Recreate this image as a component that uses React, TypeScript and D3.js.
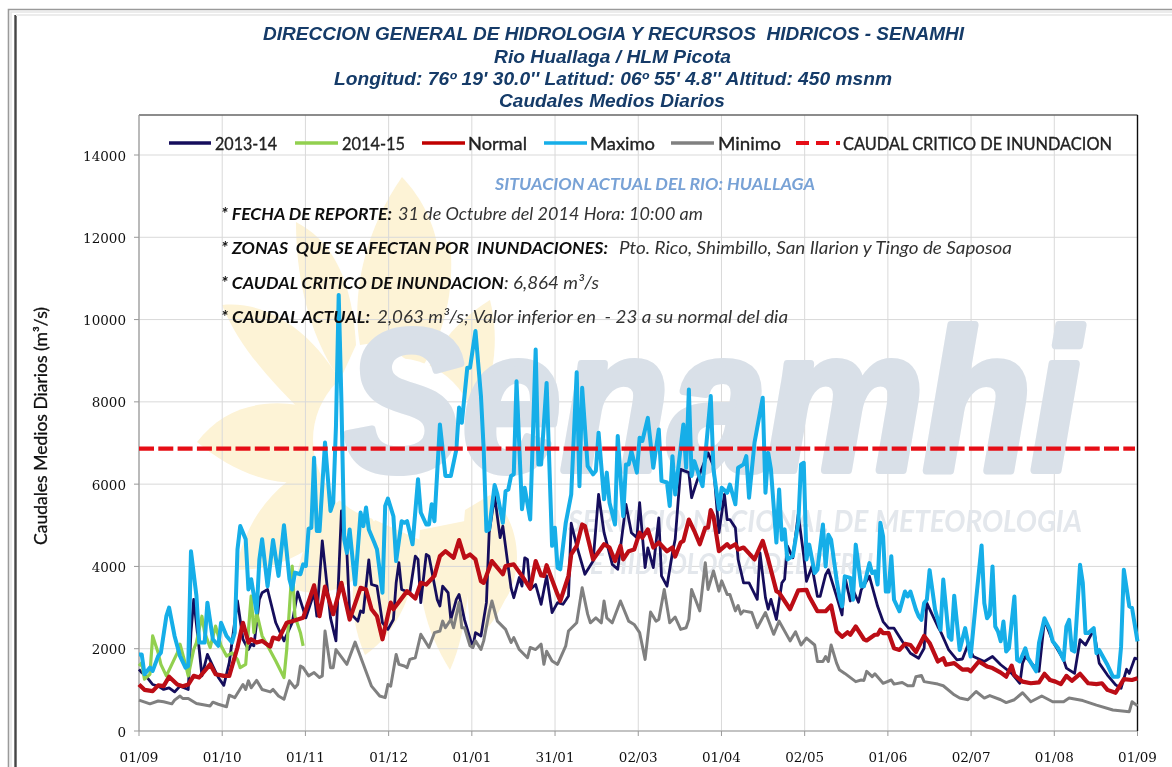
import React from "react";
import * as d3 from "d3";

type P = [number, number];

const xLabels = ["01/09","01/10","01/11","01/12","01/01","31/01","02/03","01/04","02/05","01/06","02/07","01/08","01/09"];
const yTicks = [0,2000,4000,6000,8000,10000,12000,14000];
const caudalCritico = 6864;

const serie1314: P[] = [[0,1500],[1,1420],[3,1300],[5,1130],[7,1090],[9,1010],[11,1050],[13,950],[15,1090],[18,1010],[19,2390],[20,3200],[22,1990],[23,1340],[25,1860],[27,1580],[29,1300],[31,1110],[33,1660],[36,3160],[38,2230],[40,1980],[41,2110],[42,2070],[44,3200],[45,3360],[47,3440],[50,2630],[53,2190],[56,2630],[58,3380],[61,2750],[64,3360],[65,2790],[67,4620],[70,2750],[72,2190],[74,5350],[76,4330],[77,2880],[80,2670],[81,2920],[82,2880],[84,4160],[85,3560],[87,3520],[89,2630],[91,2470],[93,2710],[94,3600],[95,4090],[96,3440],[99,3360],[101,4250],[102,4170],[103,3120],[105,4290],[106,4250],[109,3200],[110,3040],[111,3520],[113,3360],[114,2710],[116,3200],[117,3320],[119,2700],[122,2030],[123,2390],[125,2310],[127,3120],[128,4820],[130,5710],[132,4700],[133,4980],[136,3480],[137,3240],[139,3730],[140,3520],[141,4210],[142,4170],[143,3440],[145,3560],[147,3080],[149,3770],[151,2880],[153,3120],[155,3080],[157,3280],[158,5050],[160,4500],[163,3810],[166,4130],[168,5750],[170,4820],[173,4050],[175,3930],[177,4980],[178,5510],[180,4820],[182,4700],[183,5550],[185,3970],[186,4450],[188,3970],[190,5180],[191,3770],[193,3520],[195,4330],[196,4660],[198,6360],[201,6280],[202,5670],[204,6080],[208,6760],[210,6440],[212,4820],[214,5750],[215,5140],[216,5140],[218,4940],[219,4170],[221,3600],[223,3600],[226,3200],[227,4330],[229,3240],[230,2960],[231,3200],[233,2710],[235,3600],[236,3690],[237,4500],[239,4210],[241,5270],[243,4250],[244,3640],[246,4000],[248,3270],[249,3270],[251,3800],[252,3920],[255,3270],[257,2820],[258,3760],[260,3160],[261,3430],[263,3130],[264,3430],[267,3760],[270,3030],[272,2660],[274,2500],[276,2500],[279,2180],[282,1890],[285,1770],[287,2010],[288,3110],[292,2540],[293,2420],[296,1970],[299,1730],[301,1750],[303,2090],[305,1810],[309,1690],[312,1810],[315,1610],[319,1400],[322,1160],[323,1650],[324,1810],[329,1450],[331,2700],[334,2180],[338,1730],[339,1530],[342,1400],[344,2220],[346,2090],[349,2460],[351,1650],[354,1360],[357,1120],[359,1040],[361,1500],[362,1400],[364,1770],[365,1750]];

const serie1415: P[] = [[0,1580],[1,1660],[2,1260],[4,1380],[5,2310],[7,1900],[8,1620],[10,1340],[12,1620],[14,1900],[15,2110],[17,1620],[18,1340],[20,1980],[21,2150],[23,2790],[24,2390],[26,2030],[28,2550],[30,2070],[32,1820],[34,1900],[36,1740],[37,1540],[39,1620],[41,3280],[42,2390],[43,2880],[45,2310],[47,2070],[50,1700],[53,1300],[54,1980],[56,4010],[57,2790],[59,2390],[60,2070]];

const serieNormal: P[] = [[0,1130],[2,1000],[5,970],[7,1110],[9,1090],[11,1320],[14,1130],[16,1090],[18,1130],[20,1340],[22,1300],[26,1620],[28,1380],[31,1340],[33,1340],[36,2030],[38,2630],[40,2150],[41,2230],[43,2150],[45,2190],[48,2050],[49,2270],[51,2230],[54,2630],[56,2670],[60,2750],[64,3540],[66,2790],[68,3510],[71,2840],[74,3600],[77,2710],[81,3480],[83,3440],[85,2960],[87,2790],[89,2230],[92,3120],[93,2960],[98,3400],[101,3220],[103,3600],[105,3560],[108,3770],[110,4250],[112,4370],[115,4210],[117,4640],[119,4210],[121,4290],[123,4170],[125,3640],[126,3600],[129,4130],[133,3810],[134,4010],[137,4050],[140,3770],[143,3460],[145,4130],[147,3780],[148,3770],[149,4030],[153,3320],[154,3160],[157,3770],[158,4290],[160,4500],[162,5020],[163,4980],[166,4170],[170,4540],[172,4460],[174,4130],[176,4500],[177,4170],[179,4370],[181,4410],[183,4820],[184,4700],[186,4900],[188,4460],[190,4580],[193,4370],[195,4460],[196,4240],[198,4580],[199,4620],[201,5140],[203,4860],[205,4540],[207,4940],[208,4940],[209,5370],[210,5220],[212,4370],[215,4540],[216,4460],[218,4540],[219,4410],[221,4460],[225,4170],[228,4620],[230,4170],[233,3400],[234,3360],[238,2960],[241,3420],[244,3430],[245,3270],[248,2910],[251,2910],[253,3050],[255,2420],[257,2290],[259,2400],[260,2340],[262,2540],[265,2230],[266,2200],[269,2340],[270,2340],[271,2460],[272,2380],[274,2380],[276,2010],[278,1970],[280,2120],[282,2090],[284,1920],[287,2310],[289,2140],[292,1690],[294,1770],[295,1610],[298,1650],[301,1490],[303,1500],[304,1450],[307,1690],[310,1570],[312,1530],[315,1420],[317,1320],[319,1590],[320,1360],[323,1200],[326,1160],[329,1180],[331,1390],[333,1240],[335,1200],[337,1140],[339,1340],[341,1220],[344,1390],[347,1160],[350,1140],[352,1160],[354,1000],[357,930],[360,1260],[363,1240],[365,1280]];

const serieMaximo: P[] = [[0,1860],[1,1860],[2,1380],[4,1540],[5,1460],[7,1820],[8,1900],[10,2790],[11,3000],[13,2310],[15,1820],[17,1540],[18,1580],[19,4370],[21,3280],[22,2150],[24,2150],[25,3120],[27,2230],[29,2070],[30,2630],[32,2310],[34,2150],[35,2390],[36,4410],[37,4980],[39,4660],[40,3440],[41,3690],[43,2880],[44,4170],[45,4660],[47,3520],[49,4640],[51,3770],[53,5000],[55,3690],[56,3440],[57,3850],[59,3810],[60,4050],[61,4010],[62,4920],[63,4940],[64,6640],[65,4860],[66,4860],[68,7010],[70,5350],[71,5550],[72,7410],[73,10600],[74,8000],[75,4660],[76,4330],[77,4900],[79,3560],[81,5310],[82,4980],[83,5430],[84,4900],[86,4580],[87,4410],[89,3360],[90,5470],[91,5650],[93,5220],[94,4130],[96,5100],[97,5060],[98,5100],[100,4540],[102,6120],[103,5310],[105,5020],[106,5020],[107,5510],[108,5100],[110,7450],[111,6840],[112,6200],[114,6200],[116,6840],[117,7860],[118,7490],[120,8830],[121,8830],[123,9720],[125,8140],[126,6840],[127,4860],[128,4900],[130,5980],[131,5750],[133,5060],[134,5830],[135,5870],[136,6200],[137,6240],[138,8500],[140,5390],[141,5910],[143,5140],[145,9270],[146,6480],[147,6480],[149,8460],[151,4500],[152,4940],[153,3970],[154,3930],[156,5060],[158,5750],[160,8720],[161,5950],[162,8340],[164,6440],[166,6240],[167,6320],[168,7250],[170,5630],[171,6280],[172,5550],[174,5020],[175,7170],[177,5220],[178,6480],[179,6480],[180,6800],[182,6280],[183,7130],[184,7050],[186,7610],[188,6400],[190,7330],[191,6080],[193,6040],[194,5470],[195,6680],[196,5750],[199,7450],[200,6400],[201,8300],[202,6200],[203,6560],[206,5950],[209,8140],[210,6360],[212,5390],[213,5910],[215,5790],[216,5990],[218,5510],[219,6400],[221,6480],[222,6680],[223,5670],[225,7010],[228,8100],[229,5790],[230,6760],[231,6360],[233,4580],[234,5870],[235,4650],[236,4900],[237,4170],[239,4250],[241,5060],[242,6480],[243,6520],[244,4170],[245,4530],[247,3840],[248,3920],[250,5020],[251,4000],[252,4770],[253,4650],[255,3680],[256,3270],[257,3030],[258,3760],[260,3720],[261,3190],[262,4530],[264,3520],[265,3520],[267,4080],[268,3840],[269,3880],[270,3560],[271,5060],[272,4730],[273,3390],[274,3390],[275,4250],[276,3190],[278,2910],[280,3390],[281,3270],[282,3390],[284,2950],[285,2790],[286,2700],[287,3110],[288,3190],[289,3910],[290,3430],[291,2950],[293,2460],[294,3680],[296,2300],[297,2220],[298,3290],[300,1970],[302,2500],[304,1810],[306,3190],[308,4510],[309,3110],[310,2740],[311,2830],[312,4000],[313,2540],[314,2420],[315,2180],[316,2660],[317,1930],[318,2010],[320,3270],[321,1730],[322,1690],[324,2010],[325,1770],[328,1450],[329,2140],[331,2740],[333,2460],[334,2180],[336,2010],[338,1730],[339,2540],[340,2700],[341,1970],[342,1930],[344,4040],[345,3600],[346,2380],[347,2380],[349,2500],[350,1890],[351,1970],[354,1610],[356,1320],[358,1320],[359,2050],[360,3920],[362,3030],[363,2990],[365,2180]];

const serieMinimo: P[] = [[0,750],[4,660],[7,730],[9,710],[12,660],[13,750],[15,850],[16,790],[18,790],[21,670],[26,610],[27,700],[29,650],[32,590],[33,870],[35,810],[38,1130],[39,1010],[40,1220],[41,1050],[43,1230],[45,1010],[48,950],[49,1010],[51,850],[53,770],[55,1220],[57,1050],[58,1130],[59,1580],[60,1540],[62,1340],[64,1420],[66,1300],[67,1340],[68,2430],[70,1540],[71,1540],[72,1980],[76,1620],[79,2160],[82,1620],[85,1090],[88,850],[90,810],[91,1130],[92,1090],[94,1860],[95,1620],[97,1580],[98,1540],[99,1740],[101,1780],[103,2350],[106,2030],[108,2390],[110,2430],[111,2670],[112,2510],[114,2710],[115,2510],[117,3120],[118,2510],[119,2510],[121,2070],[122,2030],[123,2190],[125,1980],[126,2190],[128,2880],[129,3160],[131,2670],[134,2470],[136,2150],[137,2270],[139,1980],[142,1780],[143,2030],[145,1980],[147,2110],[148,1620],[149,1940],[151,1700],[153,1620],[156,2070],[157,2430],[160,2630],[162,3480],[164,2840],[165,2630],[167,2750],[169,2630],[170,3160],[171,2750],[173,2630],[176,3160],[179,2670],[181,2590],[183,2390],[185,1740],[187,2890],[189,2670],[190,2710],[192,3440],[194,2630],[196,2770],[198,2470],[200,2510],[201,2710],[202,3440],[205,2920],[207,4090],[208,3440],[210,3890],[212,3400],[213,3650],[215,3320],[216,3320],[218,2920],[219,3050],[220,2840],[221,2920],[224,2880],[226,2510],[229,2880],[232,2350],[234,2670],[238,2190],[240,2410],[242,2090],[244,2260],[247,2090],[248,1690],[250,1690],[251,1810],[252,1690],[253,2090],[255,1650],[256,1490],[258,1400],[262,1200],[264,1240],[265,1230],[266,1450],[268,1320],[269,1390],[272,1160],[275,1240],[276,1140],[279,1180],[281,1100],[283,1100],[284,1320],[286,1350],[287,1200],[292,1140],[294,1100],[298,880],[300,800],[303,760],[306,960],[309,800],[311,860],[315,760],[317,690],[320,760],[323,930],[326,710],[330,850],[334,710],[338,710],[340,800],[345,740],[350,630],[356,510],[362,470],[363,710],[365,610]];

const x = d3.scaleLinear().domain([0, 365]).range([139, 1137.5]);
const y = d3.scaleLinear().domain([0, 14000]).range([731, 155]);
const line = d3.line<P>().x(d => x(d[0])).y(d => y(d[1]));
const xTickDays = xLabels.map((_, i) => (i * 365) / 12);

const SUN = "#fdf3d6";
const petals = [
  "M402 177 C438 215 452 270 428 335 L360 345 C350 290 368 225 402 177Z",
  "M296 222 C330 240 352 275 356 345 L340 380 C312 340 296 285 296 222Z",
  "M222 305 C270 300 320 335 350 400 L310 420 C275 385 240 350 222 305Z",
  "M197 442 C225 405 270 395 320 410 L315 480 C275 490 230 470 197 442Z",
  "M236 570 C245 520 275 480 325 460 L340 520 C310 555 275 570 236 570Z",
  "M295 590 C300 540 320 510 355 490 L385 540 C365 580 335 600 295 590Z",
  "M365 655 C345 610 350 560 375 520 L420 540 C415 590 400 630 365 655Z",
  "M450 670 C425 630 415 590 420 530 L470 520 C470 570 470 625 450 670Z",
  "M470 640 C470 600 460 560 465 510 L490 495 C520 520 525 570 505 600 C495 620 485 635 470 640Z",
  "M490 300 C500 340 495 385 470 425 L420 400 C425 360 450 325 490 300Z",
  "M450 240 C455 290 445 335 420 370 L380 340 C395 300 420 265 450 240Z",
];

const F = "Lato, 'Noto Sans', sans-serif";
const T = "'Liberation Sans', Arial, sans-serif";
const S = "'DejaVu Serif', serif";

const titles: [string, number, number, number][] = [
  ["DIRECCION GENERAL DE HIDROLOGIA Y RECURSOS  HIDRICOS - SENAMHI", 263, 40, 701],
  ["Rio Huallaga / HLM Picota", 494, 63, 237],
  ["Longitud: 76º 19' 30.0'' Latitud: 06º 55' 4.8'' Altitud: 450 msnm", 334, 85, 558],
  ["Caudales Medios Diarios", 499, 107, 226],
];

const legend: [string, string, number, number, number, number][] = [
  ["2013-14", "#15105c", 169, 211, 215, 62],
  ["2014-15", "#92d050", 295, 338, 342, 63],
  ["Normal", "#c00000", 422, 465, 468, 59],
  ["Maximo", "#12aee8", 544, 587, 590, 65],
  ["Minimo", "#808080", 671, 714, 718, 63],
];

const notes: [string, number, number, number, boolean][] = [
  ["* FECHA DE REPORTE:", 221, 220, 171, true],
  ["31 de Octubre del 2014 Hora: 10:00 am", 398, 220, 305, false],
  ["* ZONAS  QUE SE AFECTAN POR  INUNDACIONES:", 221, 254, 387, true],
  ["Pto. Rico, Shimbillo, San Ilarion y Tingo de Saposoa", 619, 254, 393, false],
  ["* CAUDAL CRITICO DE INUNDACION", 221, 289, 283, true],
  [": 6,864 m³/s", 504, 289, 95, false],
  ["* CAUDAL ACTUAL:", 221, 323, 149, true],
  ["2,063 m³/s; Valor inferior en  - 23 a su normal del dia", 377, 323, 411, false],
];

const series: [P[], string, number][] = [
  [serie1314, "#15105c", 2.8],
  [serie1415, "#92d050", 3.2],
  [serieMaximo, "#12aee8", 4],
  [serieMinimo, "#808080", 3],
  [serieNormal, "#bc0a12", 4.2],
];

export default function App() {
  return (
    <svg width={1172} height={767} style={{ position: "fixed", left: 0, top: 0, background: "#fff" }}>
      <defs>
        <filter id="soft" x="0" y="0" width="100%" height="100%" filterUnits="objectBoundingBox">
          <feGaussianBlur stdDeviation="0.45" />
        </filter>
      </defs>
      <rect width={1172} height={767} fill="#fff" />
      <g filter="url(#soft)">
        <rect width={1172} height={767} fill="#fff" />
        <path d="M8.5 767V9.5H1172" fill="none" stroke="#9a9a9a" strokeWidth={1.6} />
        <path d="M11 767V12H1172" fill="none" stroke="#e6e6e6" strokeWidth={1.5} />
        <path d="M15.5 767V15" fill="none" stroke="#444" strokeWidth={2.4} />
        <path d="M16 15H1172" fill="none" stroke="#ececec" strokeWidth={2} />

        {petals.map((d, i) => <path key={i} d={d} fill={SUN} />)}
        <circle cx={395} cy={440} r={82} fill="#fff" />

        {yTicks.map(t => <line key={t} x1={139} x2={1137.5} y1={y(t)} y2={y(t)} stroke="#d9d9d9" />)}
        {xTickDays.map((d, i) => <line key={i} x1={x(d)} x2={x(d)} y1={115} y2={731} stroke="#d9d9d9" />)}

        <text x={345} y={470} fontFamily={T} fontWeight="bold" fontStyle="italic" fontSize={200} fill="#d9e0e8"
          stroke="#d9e0e8" strokeWidth={8} strokeLinejoin="round"
          textLength={735} lengthAdjust="spacingAndGlyphs">Senamhi</text>
        <text x={568} y={532} fontFamily={F} fontWeight="bold" fontStyle="italic" fontSize={31} fill="#e3e7ec"
          textLength={514} lengthAdjust="spacingAndGlyphs">SERVICIO NACIONAL DE METEOROLOGIA</text>
        <text x={590} y={574} fontFamily={F} fontWeight="bold" fontStyle="italic" fontSize={28} fill="#e3e7ec"
          textLength={283} lengthAdjust="spacingAndGlyphs">E HIDROLOGIA DEL PERU</text>

        <line x1={139} x2={1137.5} y1={115} y2={115} stroke="#666" strokeWidth={1.4} />
        <line x1={139} x2={139} y1={115} y2={731} stroke="#999" strokeWidth={1.2} />
        <line x1={139} x2={1137.5} y1={731} y2={731} stroke="#999" strokeWidth={1.2} />
        <line x1={1137.5} x2={1137.5} y1={115} y2={731} stroke="#111" strokeWidth={1.4} />

        {yTicks.map(t => (
          <g key={t}>
            <line x1={134} x2={139} y1={y(t)} y2={y(t)} stroke="#999" />
            <text x={126} y={y(t) + 5.5} textAnchor="end" fontFamily={S} fontSize={13.5} fill="#111">{t}</text>
          </g>
        ))}
        {xTickDays.map((d, i) => (
          <g key={i}>
            <line x1={x(d)} x2={x(d)} y1={731} y2={736} stroke="#999" />
            <text x={x(d)} y={762} textAnchor="middle" fontFamily={S} fontSize={13.5} fill="#111">{xLabels[i]}</text>
          </g>
        ))}

        {series.map(([data, color, w], i) => (
          <path key={i} d={line(data) || ""} fill="none" stroke={color} strokeWidth={w} strokeLinejoin="round" />
        ))}
        <line x1={x(0)} x2={1135} y1={y(caudalCritico)} y2={y(caudalCritico)} stroke="#e60f14" strokeWidth={4.4}
          strokeDasharray="15 4.3" />

        {titles.map(([s, tx, by, w], i) => (
          <text key={i} x={tx} y={by} fontFamily={T} fontWeight="bold" fontStyle="italic"
            fontSize={18} fill="#123a68" style={{ whiteSpace: "pre" }}
            textLength={w} lengthAdjust="spacingAndGlyphs">{s}</text>
        ))}

        {legend.map(([name, color, x1, x2, tx, tw]) => (
          <g key={name}>
            <line x1={x1} x2={x2} y1={143} y2={143} stroke={color} strokeWidth={3.6} />
            <text x={tx} y={149.5} fontFamily={F} fontSize={18} fill="#222" stroke="#222" strokeWidth={0.35}
              textLength={tw} lengthAdjust="spacingAndGlyphs">{name}</text>
          </g>
        ))}
        <line x1={796} x2={840} y1={143} y2={143} stroke="#e60f14" strokeWidth={4} strokeDasharray="13 7" />
        <text x={843} y={149.5} fontFamily={F} fontSize={18} fill="#222" stroke="#222" strokeWidth={0.35} textLength={269} lengthAdjust="spacingAndGlyphs">CAUDAL CRITICO DE INUNDACION</text>

        <text x={495} y={190} fontFamily={F} fontSize={17.5} fontStyle="italic" fontWeight={700} fill="#78a2d6"
          textLength={320} lengthAdjust="spacingAndGlyphs">SITUACION ACTUAL DEL RIO: HUALLAGA</text>

        {notes.map(([s, nx, ny, w, bold], i) => (
          <text key={i} x={nx} y={ny} fontFamily={F} fontSize={17.5} fontStyle="italic" fontWeight={bold ? 700 : 400}
            fill={bold ? "#111" : "#333"} style={{ whiteSpace: "pre" }} textLength={w} lengthAdjust="spacingAndGlyphs">{s}</text>
        ))}

        <text transform="translate(47,426) rotate(-90)" textAnchor="middle" fontFamily={F} fontSize={17} fill="#111" stroke="#111" strokeWidth={0.3}
          textLength={238} lengthAdjust="spacingAndGlyphs">Caudales Medios Diarios (m³/s)</text>
      </g>
    </svg>
  );
}
